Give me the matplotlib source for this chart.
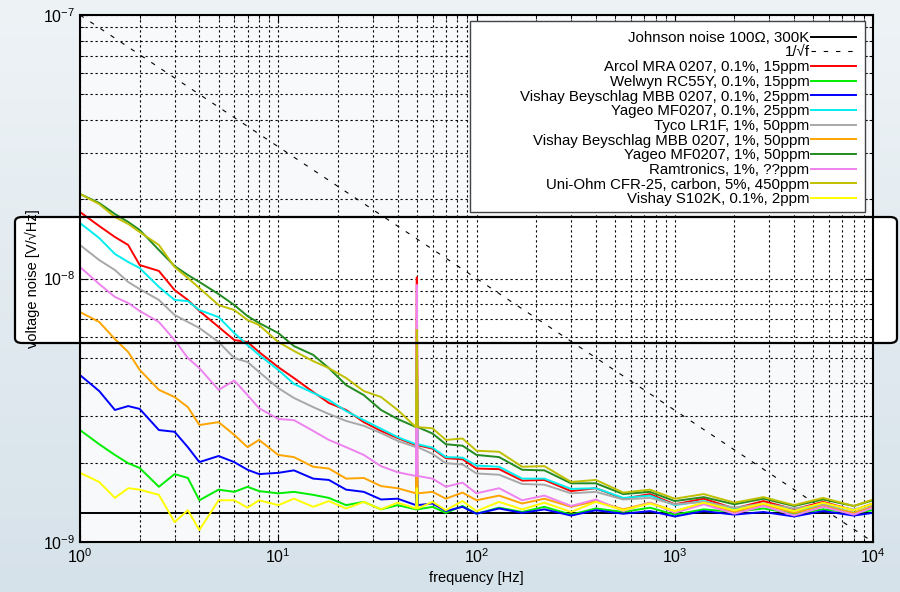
import numpy as np
import matplotlib.pyplot as plt
from matplotlib.patches import FancyBboxPatch, Rectangle
from matplotlib.colors import LinearSegmentedColormap
from matplotlib.ticker import NullFormatter

plt.rcParams['font.family'] = ['Liberation Sans', 'DejaVu Sans']

# frequency points [Hz]
freq = [1, 1.25, 1.5, 1.75, 2, 2.5, 3, 3.5, 4, 5, 6, 7, 8, 10, 12, 15, 18, 22, 27, 33,
        40, 49.5, 50, 50.5, 60, 70, 85, 100, 130, 170, 220, 300, 400, 550, 750,
        1000, 1400, 2000, 2800, 4000, 5600, 8000, 10000]

# noise spectra in nV/sqrt(Hz)
arcol = [17.88, 15.82, 14.37, 13.40, 11.25, 10.68, 9.04, 8.29, 7.53, 6.55, 5.84, 5.74, 5.26, 4.61, 4.19, 3.71, 3.37, 3.17, 2.85, 2.64, 2.48,
         2.33, 10.1, 2.33,
         2.26, 2.08, 2.06, 1.90, 1.89, 1.71, 1.72, 1.56, 1.60, 1.46, 1.52, 1.39, 1.46, 1.34, 1.43, 1.33, 1.42, 1.32, 1.40]
welwyn = [2.66, 2.35, 2.14, 1.99, 1.91, 1.62, 1.81, 1.75, 1.44, 1.58, 1.55, 1.62, 1.56, 1.53, 1.55, 1.51, 1.47, 1.38, 1.42, 1.33, 1.38,
          1.33, 1.9, 1.33,
          1.36, 1.29, 1.37, 1.28, 1.35, 1.30, 1.36, 1.27, 1.34, 1.30, 1.35, 1.27, 1.33, 1.30, 1.34, 1.28, 1.33, 1.29, 1.32]
vishay_mbb01 = [4.30, 3.74, 3.17, 3.28, 3.20, 2.66, 2.62, 2.29, 2.01, 2.12, 2.01, 1.88, 1.81, 1.83, 1.87, 1.74, 1.72, 1.58, 1.55, 1.45, 1.46,
                1.38, 2.4, 1.38,
                1.40, 1.31, 1.36, 1.28, 1.34, 1.29, 1.33, 1.26, 1.32, 1.28, 1.31, 1.25, 1.31, 1.27, 1.30, 1.25, 1.31, 1.26, 1.29]
yageo01 = [16.24, 14.24, 12.39, 11.55, 10.96, 9.29, 8.29, 8.21, 7.59, 7.14, 6.21, 5.59, 5.13, 4.50, 3.98, 3.68, 3.46, 3.14, 2.90, 2.69, 2.50,
           2.35, 4.0, 2.35,
           2.28, 2.10, 2.09, 1.95, 1.93, 1.74, 1.74, 1.59, 1.60, 1.47, 1.50, 1.38, 1.43, 1.33, 1.40, 1.31, 1.38, 1.29, 1.36]
tyco = [13.40, 11.75, 10.77, 9.70, 9.12, 8.29, 7.27, 6.84, 6.49, 5.74, 4.99, 4.82, 4.42, 3.84, 3.52, 3.25, 3.06, 2.88, 2.76, 2.59, 2.42,
        2.29, 4.0, 2.29,
        2.16, 1.99, 1.97, 1.82, 1.80, 1.66, 1.65, 1.53, 1.55, 1.45, 1.47, 1.39, 1.42, 1.35, 1.40, 1.34, 1.39, 1.33, 1.38]
vishay_mbb1 = [7.46, 6.84, 5.89, 5.26, 4.50, 3.78, 3.55, 3.25, 2.78, 2.85, 2.55, 2.29, 2.44, 2.14, 2.10, 1.93, 1.90, 1.74, 1.75, 1.63, 1.60,
               1.53, 3.0, 1.53,
               1.55, 1.46, 1.54, 1.44, 1.50, 1.40, 1.46, 1.36, 1.43, 1.33, 1.41, 1.31, 1.40, 1.30, 1.39, 1.29, 1.37, 1.29, 1.36]
yageo1 = [20.93, 19.34, 17.57, 16.39, 15.28, 12.83, 11.15, 10.31, 9.70, 8.73, 7.93, 7.20, 6.78, 6.21, 5.54, 5.13, 4.57, 3.94, 3.61, 3.17, 2.93,
          2.73, 5.0, 2.73,
          2.58, 2.35, 2.32, 2.14, 2.10, 1.88, 1.87, 1.67, 1.67, 1.52, 1.55, 1.43, 1.48, 1.39, 1.46, 1.37, 1.45, 1.37, 1.44]
ramtronics = [11.06, 9.53, 8.51, 8.07, 7.53, 6.84, 5.84, 4.99, 4.57, 3.78, 4.10, 3.61, 3.22, 2.93, 2.90, 2.64, 2.44, 2.29, 2.14, 1.94, 1.84,
              1.78, 9.45, 1.78,
              1.74, 1.62, 1.68, 1.53, 1.60, 1.44, 1.50, 1.37, 1.45, 1.31, 1.41, 1.29, 1.39, 1.28, 1.37, 1.26, 1.36, 1.27, 1.35]
uniohm = [20.93, 19.17, 17.12, 16.10, 15.01, 13.40, 11.06, 10.04, 9.20, 7.93, 7.59, 6.96, 6.66, 5.74, 5.31, 4.86, 4.57, 4.19, 3.74, 3.55, 3.17,
          2.73, 6.38, 2.73,
          2.70, 2.44, 2.47, 2.22, 2.20, 1.93, 1.94, 1.69, 1.72, 1.54, 1.58, 1.46, 1.52, 1.41, 1.48, 1.38, 1.47, 1.37, 1.45]
vishay_s102k = [1.83, 1.69, 1.47, 1.60, 1.58, 1.51, 1.19, 1.32, 1.11, 1.44, 1.44, 1.35, 1.44, 1.38, 1.46, 1.36, 1.43, 1.34, 1.42, 1.33, 1.41,
                1.34, 1.6, 1.34,
                1.42, 1.32, 1.43, 1.31, 1.42, 1.33, 1.41, 1.30, 1.42, 1.32, 1.40, 1.31, 1.41, 1.32, 1.40, 1.31, 1.41, 1.32, 1.40]

johnson = 1.287e-9          # 100 ohm, 300 K
flicker_f = [1, 1e4]
flicker_v = [1e-7, 1e-9]

series = [arcol, welwyn, vishay_mbb01, yageo01, tyco, vishay_mbb1, yageo1, ramtronics, uniohm, vishay_s102k]
labels = ['Arcol MRA 0207, 0.1%, 15ppm', 'Welwyn RC55Y, 0.1%, 15ppm',
          'Vishay Beyschlag MBB 0207, 0.1%, 25ppm', 'Yageo MF0207, 0.1%, 25ppm',
          'Tyco LR1F, 1%, 50ppm', 'Vishay Beyschlag MBB 0207, 1%, 50ppm',
          'Yageo MF0207, 1%, 50ppm', 'Ramtronics, 1%, ??ppm',
          'Uni-Ohm CFR-25, carbon, 5%, 450ppm', 'Vishay S102K, 0.1%, 2ppm']
colors = ['#ff0000', '#00ee00', '#0000ff', '#00eeee', '#a8a8a8', '#ffa500',
          '#228b22', '#ee82ee', '#c0c000', '#ffff00']

fig = plt.figure(figsize=(9, 5.92), dpi=100)

# background: light gradient, pale plot area, white highlight box
bg = fig.add_axes([0, 0, 1, 1], zorder=-5)
bg.set_axis_off()
cmap = LinearSegmentedColormap.from_list('bg', ['#eef3f6', '#d6e2ea'])
bg.imshow(np.linspace(0, 1, 256).reshape(-1, 1), cmap=cmap, aspect='auto', extent=[0, 1, 0, 1])
bg.set_xlim(0, 1)
bg.set_ylim(0, 1)
L, B, W, H = 80 / 900, 1 - 542 / 592, 793 / 900, 527 / 592
bg.add_patch(Rectangle((L, B), W, H, facecolor='#f7f9fb', edgecolor='none'))
bx, by, bw, bh = 15 / 900, 1 - 343 / 592, 882 / 900, 126 / 592
bg.add_patch(FancyBboxPatch((bx, by), bw, bh, boxstyle='round,pad=0,rounding_size=0.008',
                            facecolor='white', edgecolor='none'))

ax = fig.add_axes([L, B, W, H])
ax.set_facecolor('none')

ax.plot(flicker_f, [johnson, johnson], color='black', lw=1.4, label='Johnson noise 100Ω, 300K')
ax.plot(flicker_f, flicker_v, color='black', lw=0.8, linestyle=(0, (4, 7)), label='1/√f')
for v, lab, c in zip(series, labels, colors):
    ax.plot(freq, np.array(v) * 1e-9, color=c, lw=1.4, label=lab)

ax.set_xscale('log')
ax.set_yscale('log')
ax.set_xlim(1, 1e4)
ax.set_ylim(1e-9, 1e-7)
ax.xaxis.set_minor_formatter(NullFormatter())
ax.yaxis.set_minor_formatter(NullFormatter())
ax.grid(True, which='both', color='black', linestyle=(0, (2, 2.5)), linewidth=0.8)
ax.tick_params(which='both', direction='in', top=True, right=True, labelsize=11.5)
ax.tick_params(which='major', length=6)
ax.tick_params(which='minor', length=3)
for s in ax.spines.values():
    s.set_linewidth(1.5)

ax.set_xlabel('frequency [Hz]', fontsize=10.5)
ax.set_ylabel('voltage noise [V/√Hz]', fontsize=10.5)
ax.xaxis.set_label_coords(0.5, -0.055)
ax.yaxis.set_label_coords(-0.05, 0.5)

# legend: separate frame, right-aligned entries
ax.add_patch(Rectangle((0.4918, 0.6262), 0.4981, 0.3624, transform=ax.transAxes,
                       facecolor='white', edgecolor='#444444', lw=1, zorder=4))
leg = ax.legend(loc='upper right', bbox_to_anchor=(0.9786, 0.9700), frameon=False,
                markerfirst=False, fontsize=10.8, handlelength=3.0, handletextpad=0.1,
                labelspacing=0.045, borderpad=0, borderaxespad=0)
leg.set_zorder(5)

# highlight box outline on top
fig.add_artist(FancyBboxPatch((bx, by), bw, bh, boxstyle='round,pad=0,rounding_size=0.008',
                              transform=fig.transFigure, facecolor='none',
                              edgecolor='black', lw=1.6, zorder=10))

fig.savefig('out.png', dpi=100)
